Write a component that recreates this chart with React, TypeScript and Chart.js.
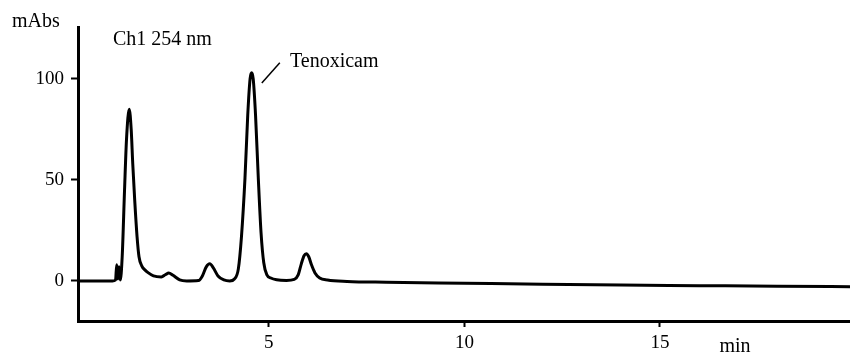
import React, { useEffect, useRef } from "react";
import { Chart, registerables } from "chart.js";

Chart.register(...registerables);

const times = [0.12, 1.0, 1.08, 1.11, 1.14, 1.17, 1.2, 1.25, 1.31, 1.36, 1.43, 1.48, 1.52, 1.57, 1.63, 1.68, 1.75, 1.83, 1.92, 2.05, 2.25, 2.36, 2.44, 2.55, 2.72, 2.9, 3.2, 3.3, 3.4, 3.49, 3.58, 3.7, 3.85, 4.0, 4.12, 4.22, 4.3, 4.39, 4.46, 4.52, 4.56, 4.6, 4.66, 4.73, 4.8, 4.87, 4.95, 5.05, 5.2, 5.45, 5.65, 5.75, 5.83, 5.9, 5.96, 6.02, 6.09, 6.18, 6.3, 6.5, 7.0, 8.0, 10.0, 12.0, 14.0, 16.0, 18.0, 19.86];
const absorbance = [0, 0, 0.5, 8, 1, 7, 0.5, 12, 45, 70, 85, 75, 58, 40, 22, 12, 7.5, 5.5, 4, 2.5, 2, 3.2, 4, 2.8, 0.5, 0, 0.2, 2.5, 7, 8.5, 6.5, 2.5, 0.5, 0, 1, 6, 22, 51, 82, 100, 103, 100, 82, 51, 24, 9, 3, 1.5, 0.6, 0.3, 0.8, 3, 8.5, 12.5, 13.5, 12, 8, 4, 1.5, 0.5, -0.2, -0.6, -1.1, -1.6, -2.0, -2.3, -2.6, -2.8];
const xTicks = [5, 10, 15];
const yTicks = [0, 50, 100];
const yUnit = "mAbs";
const xUnit = "min";
const channelLabel = "Ch1 254 nm";
const peakName = "Tenoxicam";
const peakLabelAt = { x1: 4.82, y1: 98, x2: 5.28, y2: 108, tx: 5.54, ty: 106 };

const FONT = "'Liberation Serif', 'Times New Roman', serif";

const textPlugin = {
  id: "chromText",
  afterDraw(chart: any) {
    const ctx = chart.ctx;
    const xs = chart.scales.x;
    const ys = chart.scales.y;
    ctx.save();
    ctx.fillStyle = "#000";
    ctx.font = `20px ${FONT}`;
    ctx.textBaseline = "alphabetic";
    ctx.textAlign = "left";
    ctx.fillText(yUnit, 12, 27);
    ctx.fillText(channelLabel, 113, 45);
    ctx.fillText(peakName, xs.getPixelForValue(peakLabelAt.tx), ys.getPixelForValue(peakLabelAt.ty));
    ctx.textAlign = "center";
    ctx.fillText(xUnit, 735, 352);
    ctx.strokeStyle = "#000";
    ctx.lineWidth = 1.5;
    ctx.beginPath();
    ctx.moveTo(xs.getPixelForValue(peakLabelAt.x1), ys.getPixelForValue(peakLabelAt.y1));
    ctx.lineTo(xs.getPixelForValue(peakLabelAt.x2), ys.getPixelForValue(peakLabelAt.y2));
    ctx.stroke();
    ctx.restore();
  },
};

export default function App() {
  const ref = useRef<HTMLCanvasElement | null>(null);
  useEffect(() => {
    if (!ref.current) return;
    const data = times.map((t, i) => ({ x: t, y: absorbance[i] }));
    const chart = new Chart(ref.current, {
      type: "line",
      data: {
        datasets: [
          {
            data,
            borderColor: "#000",
            borderWidth: 3,
            pointRadius: 0,
            cubicInterpolationMode: "monotone",
            fill: false,
          },
        ],
      },
      options: {
        animation: false,
        responsive: false,
        maintainAspectRatio: false,
        layout: { padding: { top: 27, right: 0, left: 0, bottom: 0 } },
        plugins: { legend: { display: false }, tooltip: { enabled: false } },
        scales: {
          x: {
            type: "linear",
            min: 0.12,
            max: 19.86,
            afterBuildTicks: (s: any) => {
              s.ticks = xTicks.map((v) => ({ value: v }));
            },
            afterFit: (s: any) => {
              s.height = 33;
            },
            border: { display: true, color: "#000", width: 3 },
            grid: { drawOnChartArea: false, drawTicks: true, tickLength: 6, tickWidth: 2, color: "#000" },
            ticks: { color: "#000", font: { family: FONT, size: 19 }, padding: 5, maxRotation: 0 },
          },
          y: {
            type: "linear",
            min: -19.8,
            max: 125.7,
            afterBuildTicks: (s: any) => {
              s.ticks = yTicks.map((v) => ({ value: v }));
            },
            afterFit: (s: any) => {
              s.width = 78;
            },
            border: { display: true, color: "#000", width: 3 },
            grid: { drawOnChartArea: false, drawTicks: true, tickLength: 7, tickWidth: 2, color: "#000" },
            ticks: { color: "#000", font: { family: FONT, size: 19 }, padding: 7 },
          },
        },
      },
      plugins: [textPlugin],
    } as any);
    return () => chart.destroy();
  }, []);
  return (
    <div style={{ position: "absolute", left: 0, top: 0, width: 850, height: 354, background: "#fff" }}>
      <canvas ref={ref} width={850} height={354} style={{ width: 850, height: 354, display: "block" }} />
    </div>
  );
}
